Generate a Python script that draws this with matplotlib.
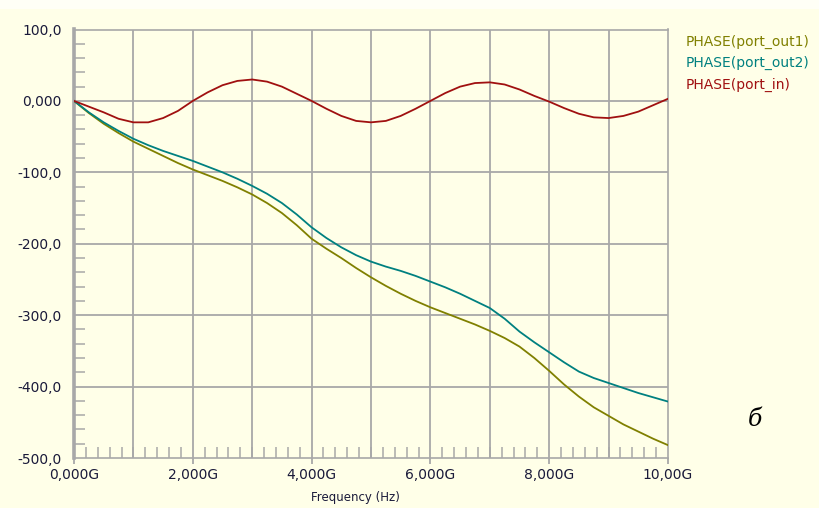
import numpy as np
import matplotlib
matplotlib.use('Agg')
import matplotlib.pyplot as plt
from matplotlib.ticker import MultipleLocator
from matplotlib.patches import Rectangle

# frequency in GHz, phase in degrees
freq = [0.0, 0.25, 0.5, 0.75, 1.0, 1.25, 1.5, 1.75, 2.0, 2.25, 2.5, 2.75,
        3.0, 3.25, 3.5, 3.75, 4.0, 4.25, 4.5, 4.75, 5.0, 5.25, 5.5, 5.75,
        6.0, 6.25, 6.5, 6.75, 7.0, 7.25, 7.5, 7.75, 8.0, 8.25, 8.5, 8.75,
        9.0, 9.25, 9.5, 9.75, 10.0]

phase_out1 = [0, -17, -32, -45, -57, -67, -77, -87, -96, -104, -112, -121,
              -131, -143, -157, -174, -193, -207, -220, -234, -247, -259, -270, -280,
              -289, -297, -305, -313, -322, -332, -344, -360, -378, -397, -414, -429,
              -441, -453, -463, -473, -482]

phase_out2 = [0, -16, -30, -42, -53, -62, -70, -77, -84, -92, -100, -109,
              -119, -130, -143, -159, -177, -192, -205, -216, -225, -232, -238, -245,
              -253, -261, -270, -280, -290, -305, -323, -338, -352, -366, -379, -388,
              -395, -402, -409, -415, -421]

phase_in = [0, -8, -16, -25, -30, -30, -24, -14, 0, 12, 22, 28,
            30, 27, 20, 10, 0, -11, -21, -28, -30, -28, -21, -11,
            0, 11, 20, 25, 26, 23, 16, 7, -1, -10, -18, -23,
            -24, -21, -15, -6, 3]

series_names = ['PHASE(port_out1)', 'PHASE(port_out2)', 'PHASE(port_in)']
series_colors = ['#808000', '#008080', '#A01010']

y_ticks = [100, 0, -100, -200, -300, -400, -500]
y_labels = ['100,0', '0,000', '-100,0', '-200,0', '-300,0', '-400,0', '-500,0']
x_ticks = [0, 2, 4, 6, 8, 10]
x_labels = ['0,000G', '2,000G', '4,000G', '6,000G', '8,000G', '10,00G']

BG = '#FFFFE8'
GRID = '#A8A8A8'
TXT = '#1A1A3A'

W, H = 819, 508
fig = plt.figure(figsize=(W / 100, H / 100), dpi=100, facecolor=BG)
fig.patches.append(Rectangle((0, 1 - 9 / H), 1, 9 / H, transform=fig.transFigure,
                             facecolor='#FFFFF6', edgecolor='none', zorder=0))

left, right, top, bottom = 74, 668, 29.5, 458
ax = fig.add_axes([left / W, 1 - bottom / H, (right - left) / W, (bottom - top) / H])
ax.set_facecolor(BG)

ax.set_xlim(0, 10)
ax.set_ylim(-500, 100)

for xv in range(1, 10):
    ax.axvline(xv, color=GRID, lw=1.3, zorder=1)
for yv in y_ticks[1:-1]:
    ax.axhline(yv, color=GRID, lw=1.3, zorder=1)

for vals, color in zip([phase_out1, phase_out2, phase_in], series_colors):
    ax.plot(freq, vals, color=color, lw=1.3, zorder=3)

ax.set_yticks(y_ticks)
ax.set_yticklabels(y_labels)
ax.set_xticks(x_ticks)
ax.set_xticklabels(x_labels)
ax.xaxis.set_minor_locator(MultipleLocator(0.2))
ax.yaxis.set_minor_locator(MultipleLocator(20))

ax.tick_params(axis='y', which='major', length=0, pad=9, labelsize=10, labelcolor=TXT)
ax.tick_params(axis='x', which='major', length=4, width=1.3, color=GRID, direction='out',
               pad=3, labelsize=10, labelcolor=TXT)
ax.tick_params(which='minor', direction='in', length=8, width=1.1, color=GRID)

for side in ['top', 'right', 'bottom']:
    ax.spines[side].set_color(GRID)
    ax.spines[side].set_linewidth(1.2)
ax.spines['left'].set_color(GRID)
ax.spines['left'].set_linewidth(2.6)

fig.text(355 / W, 1 - 497 / H, 'Frequency (Hz)', ha='center', va='center',
         fontsize=8.5, color=TXT)

for i, (name, color) in enumerate(zip(series_names, series_colors)):
    fig.text(686 / W, 1 - (41.5 + 21.5 * i) / H, name, ha='left', va='center',
             fontsize=10, color=color)

fig.text(755 / W, 1 - 420 / H, 'б', ha='center', va='center', fontsize=17,
         style='italic', family='DejaVu Serif', color='black')

fig.savefig('out.png', dpi=100, facecolor=BG)
